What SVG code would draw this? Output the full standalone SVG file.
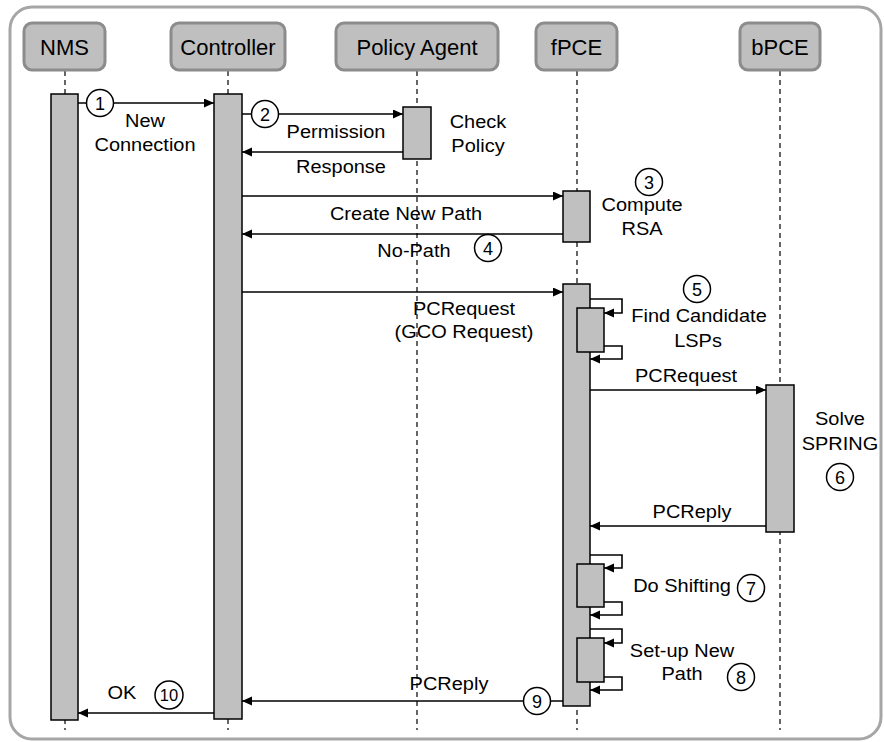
<svg xmlns="http://www.w3.org/2000/svg" width="884" height="742" viewBox="0 0 884 742">
<style>
.hdr{fill:#bfbfbf;stroke:#8c8c8c;stroke-width:3}
.htxt{font-family:"Liberation Sans",Arial,sans-serif;font-size:22px;text-anchor:middle;fill:#000}
.life{stroke:#000;stroke-width:1.2;stroke-dasharray:5,4;fill:none}
.act{fill:#c0c0c0;stroke:#000;stroke-width:1.5}
.msg{stroke:#000;stroke-width:1.6;fill:none;marker-end:url(#ah)}
.lbl{font-family:"Liberation Sans",Arial,sans-serif;font-size:18.5px;text-anchor:middle;fill:#000}
.num{fill:#fff;stroke:#000;stroke-width:1.5}
.ntxt{font-family:"Liberation Sans",Arial,sans-serif;font-size:18px;text-anchor:middle;fill:#000}
</style>
<defs>
<marker id="ah" markerUnits="userSpaceOnUse" markerWidth="11" markerHeight="10" refX="10" refY="4.5" orient="auto">
<path d="M0,0 L10,4.5 L0,9 z" fill="#000"/>
</marker>
</defs>
<rect x="10" y="7" width="871" height="732" rx="22" fill="#fff" stroke="#a6a6a6" stroke-width="3"/>

<g id="lifelines">
<line class="life" x1="65" y1="71" x2="65" y2="730"/>
<line class="life" x1="228" y1="71" x2="228" y2="730"/>
<line class="life" x1="417" y1="71" x2="417" y2="730"/>
<line class="life" x1="577" y1="71" x2="577" y2="730"/>
<line class="life" x1="780" y1="71" x2="780" y2="730"/>
</g>

<g id="nms">
<rect class="hdr" x="24" y="23" width="81" height="47" rx="8"/>
<text class="htxt" x="64.5" y="55">NMS</text>
<rect class="act" x="51" y="94" width="27" height="626"/>
</g>
<g id="controller">
<rect class="hdr" x="171" y="23" width="114" height="47" rx="8"/>
<text class="htxt" x="228" y="55">Controller</text>
<rect class="act" x="214" y="94" width="28" height="625"/>
</g>
<g id="policy-agent">
<rect class="hdr" x="336" y="23" width="162" height="47" rx="8"/>
<text class="htxt" x="417" y="55">Policy Agent</text>
<rect class="act" x="403" y="107" width="28" height="52"/>
</g>
<g id="fpce">
<rect class="hdr" x="536" y="23" width="81" height="47" rx="8"/>
<text class="htxt" x="576.5" y="55">fPCE</text>
<rect class="act" x="563" y="191" width="27" height="51"/>
<rect class="act" x="563" y="284" width="27" height="422"/>
<rect class="act" x="577" y="308" width="27" height="44"/>
<rect class="act" x="577" y="564" width="27" height="43"/>
<rect class="act" x="577" y="638" width="27" height="44"/>
</g>
<g id="bpce">
<rect class="hdr" x="740" y="23" width="80" height="47" rx="8"/>
<text class="htxt" x="780" y="55">bPCE</text>
<rect class="act" x="766" y="385" width="28" height="147"/>
</g>

<g id="connectors">
<line class="msg" x1="78" y1="103" x2="214" y2="103"/>
<line class="msg" x1="242" y1="114" x2="403" y2="114"/>
<line class="msg" x1="403" y1="152" x2="242" y2="152"/>
<line class="msg" x1="242" y1="196" x2="563" y2="196"/>
<line class="msg" x1="563" y1="234" x2="242" y2="234"/>
<line class="msg" x1="242" y1="292" x2="563" y2="292"/>
<line class="msg" x1="590" y1="390" x2="766" y2="390"/>
<line class="msg" x1="766" y1="526" x2="590" y2="526"/>
<line class="msg" x1="563" y1="701" x2="242" y2="701"/>
<line class="msg" x1="214" y1="713" x2="78" y2="713"/>
<path class="msg" d="M590,299 H622 V313 H604"/>
<path class="msg" d="M604,346 H622 V359 H590"/>
<path class="msg" d="M590,555 H622 V568 H604"/>
<path class="msg" d="M604,602 H622 V615 H590"/>
<path class="msg" d="M590,629 H622 V643 H604"/>
<path class="msg" d="M604,677 H622 V690 H590"/>
</g>

<g id="labels">
<text class="lbl" transform="translate(145,127) scale(1.08,1)">New</text>
<text class="lbl" transform="translate(145,151) scale(1.08,1)">Connection</text>
<text class="lbl" transform="translate(336,138) scale(1.08,1)">Permission</text>
<text class="lbl" transform="translate(341,173) scale(1.08,1)">Response</text>
<text class="lbl" transform="translate(478,128) scale(1.08,1)">Check</text>
<text class="lbl" transform="translate(478,152) scale(1.08,1)">Policy</text>
<text class="lbl" transform="translate(642,211) scale(1.08,1)">Compute</text>
<text class="lbl" transform="translate(642,235) scale(1.08,1)">RSA</text>
<text class="lbl" transform="translate(406,220) scale(1.08,1)">Create New Path</text>
<text class="lbl" transform="translate(414,257) scale(1.08,1)">No-Path</text>
<text class="lbl" transform="translate(464,315) scale(1.08,1)">PCRequest</text>
<text class="lbl" transform="translate(464,338) scale(1.08,1)">(GCO Request)</text>
<text class="lbl" transform="translate(699,322) scale(1.08,1)">Find Candidate</text>
<text class="lbl" transform="translate(698,347) scale(1.08,1)">LSPs</text>
<text class="lbl" transform="translate(686,382) scale(1.08,1)">PCRequest</text>
<text class="lbl" transform="translate(840,425) scale(1.08,1)">Solve</text>
<text class="lbl" transform="translate(840,450) scale(1.08,1)">SPRING</text>
<text class="lbl" transform="translate(692,518) scale(1.08,1)">PCReply</text>
<text class="lbl" transform="translate(682,592) scale(1.08,1)">Do Shifting</text>
<text class="lbl" transform="translate(682,657) scale(1.08,1)">Set-up New</text>
<text class="lbl" transform="translate(682,680) scale(1.08,1)">Path</text>
<text class="lbl" transform="translate(449,690) scale(1.08,1)">PCReply</text>
<text class="lbl" transform="translate(122,699) scale(1.08,1)">OK</text>
</g>

<g id="step-numbers">
<circle class="num" cx="100" cy="103" r="13.5"/><text class="ntxt" x="100" y="109.5">1</text>
<circle class="num" cx="265" cy="114" r="13.5"/><text class="ntxt" x="265" y="120.5">2</text>
<circle class="num" cx="649" cy="182" r="13.5"/><text class="ntxt" x="649" y="188.5">3</text>
<circle class="num" cx="488" cy="248" r="13.5"/><text class="ntxt" x="488" y="254.5">4</text>
<circle class="num" cx="697" cy="289" r="13.5"/><text class="ntxt" x="697" y="295.5">5</text>
<circle class="num" cx="840" cy="477" r="13.5"/><text class="ntxt" x="840" y="483.5">6</text>
<circle class="num" cx="751" cy="588" r="13.5"/><text class="ntxt" x="751" y="594.5">7</text>
<circle class="num" cx="741" cy="677" r="13.5"/><text class="ntxt" x="741" y="683.5">8</text>
<circle class="num" cx="537" cy="701" r="13.5"/><text class="ntxt" x="537" y="707.5">9</text>
<circle class="num" cx="169" cy="695" r="14"/><text class="ntxt" x="169" y="701" style="font-size:16.5px">10</text>
</g>
</svg>
